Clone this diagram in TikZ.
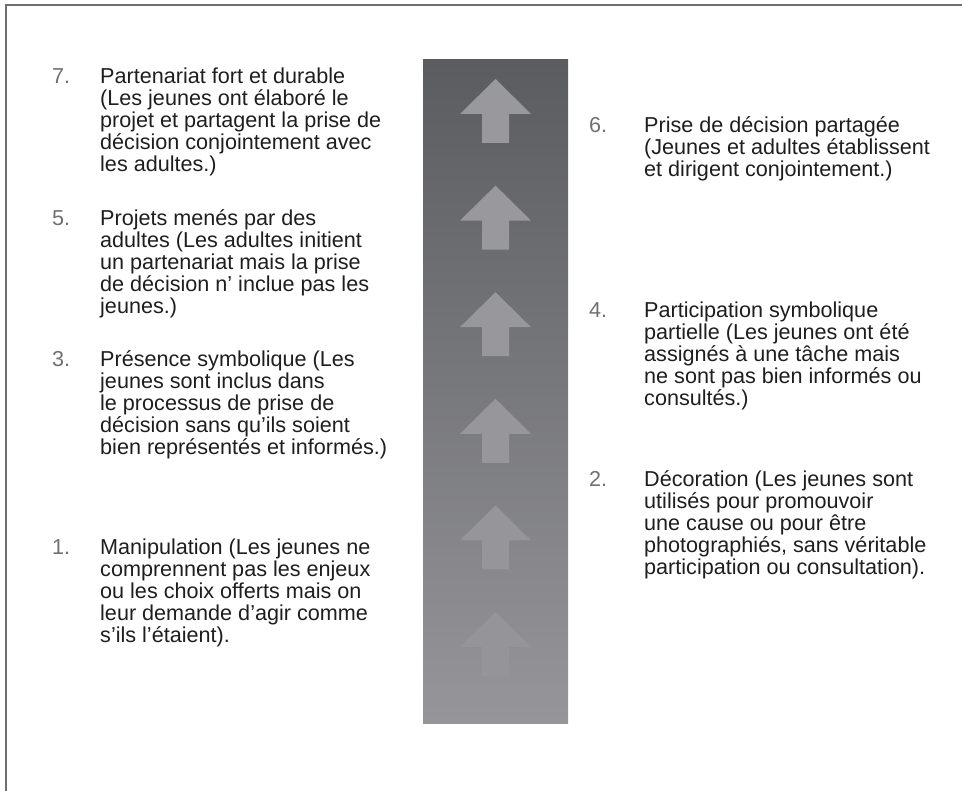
\documentclass[tikz,border=0pt]{standalone}
\usepackage{fontspec}
\setmainfont{Liberation Sans}
\usetikzlibrary{positioning}
\definecolor{framegray}{RGB}{110,110,110}
\definecolor{numgray}{RGB}{112,112,112}
\definecolor{txtblack}{RGB}{30,30,30}
\definecolor{bartop}{RGB}{91,92,95}
\definecolor{barbot}{RGB}{150,150,154}
\newcommand{\itemfont}{\fontsize{21.6}{22}\selectfont}
\newcommand{\topstrut}{\rule{0pt}{17pt}}
\tikzset{
	numlabel/.style={anchor=north west, inner sep=0pt, text=numgray, font=\itemfont},
	steptext/.style={anchor=north west, inner sep=0pt, align=left, text=txtblack, font=\itemfont},
}
\begin{document}
\begin{tikzpicture}[x=1pt,y=-1pt]
	\useasboundingbox (0,0) rectangle (962,791);
	% frame
	\draw [framegray, line width=2.5pt] (6,791) -- (6,5) -- (962,5);
	% ladder bar
	\shade [top color=bartop, bottom color=barbot] (423,60) rectangle (568,723);
	\foreach \k/\g in {0/153,1/153,2/152,3/151,4/150,5/149} {
		\pgfmathtruncatemacro{\gb}{\g+4}
		\definecolor{arrowgray}{RGB}{\g,\g,\gb}
		\pgfmathsetmacro{\ty}{79+106.6*\k}
		\fill [arrowgray] (495.5,\ty) -- (531,\ty+35) -- (509,\ty+35)
			-- (509,\ty+64) -- (482,\ty+64) -- (482,\ty+35)
			-- (460,\ty+35) -- cycle;
	}
	% left column
	\node [steptext] (t7) at (100,66) {\topstrut Partenariat fort et durable\\(Les jeunes ont élaboré le\\projet et partagent la prise de\\décision conjointement avec\\les adultes.)};
	\node [numlabel, left=48pt of t7.north west, anchor=north west] (n7) {\topstrut 7.};
	\node [steptext] (t5) at (100,208) {\topstrut Projets menés par des\\adultes (Les adultes initient\\un partenariat mais la prise\\de décision n’ inclue pas les\\jeunes.)};
	\node [numlabel, left=48pt of t5.north west, anchor=north west] (n5) {\topstrut 5.};
	\node [steptext] (t3) at (100,349) {\topstrut Présence symbolique (Les\\jeunes sont inclus dans\\le processus de prise de\\décision sans qu’ils soient\\bien représentés et informés.)};
	\node [numlabel, left=48pt of t3.north west, anchor=north west] (n3) {\topstrut 3.};
	\node [steptext] (t1) at (100,537) {\topstrut Manipulation (Les jeunes ne\\comprennent pas les enjeux\\ou les choix offerts mais on\\leur demande d’agir comme\\s’ils l’étaient).};
	\node [numlabel, left=48pt of t1.north west, anchor=north west] (n1) {\topstrut 1.};
	% right column
	\node [steptext] (t6) at (644,115) {\topstrut Prise de décision partagée\\(Jeunes et adultes établissent\\et dirigent conjointement.)};
	\node [numlabel, left=55pt of t6.north west, anchor=north west] (n6) {\topstrut 6.};
	\node [steptext] (t4) at (644,300) {\topstrut Participation symbolique\\partielle (Les jeunes ont été\\assignés à une tâche mais\\ne sont pas bien informés ou\\consultés.)};
	\node [numlabel, left=55pt of t4.north west, anchor=north west] (n4) {\topstrut 4.};
	\node [steptext] (t2) at (644,469) {\topstrut Décoration (Les jeunes sont\\utilisés pour promouvoir\\une cause ou pour être\\photographiés, sans véritable\\participation ou consultation).};
	\node [numlabel, left=55pt of t2.north west, anchor=north west] (n2) {\topstrut 2.};
\end{tikzpicture}
\end{document}
